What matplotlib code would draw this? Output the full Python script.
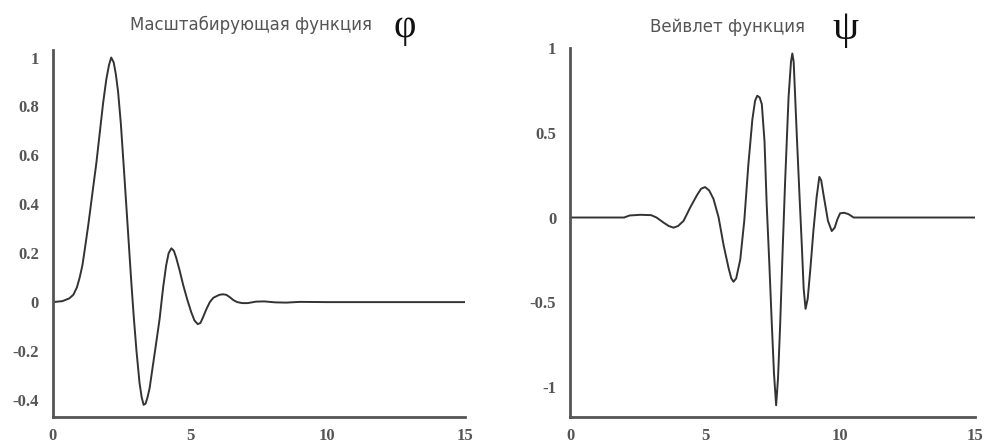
import matplotlib.pyplot as plt

# scaling function phi
phi_x = [0, 0.35, 0.6, 0.75, 0.88, 0.98, 1.08, 1.16, 1.3, 1.45, 1.59, 1.7, 1.83, 1.95,
         2.05, 2.13, 2.22, 2.3, 2.38, 2.48, 2.6, 2.74, 2.85, 2.95, 3.05, 3.16, 3.24,
         3.31, 3.38, 3.45, 3.53, 3.62, 3.75, 3.89, 4.02, 4.13, 4.22, 4.32, 4.41, 4.5,
         4.62, 4.75, 4.9, 5.04, 5.16, 5.28, 5.38, 5.48, 5.59, 5.72, 5.85, 6.07, 6.2,
         6.32, 6.45, 6.58, 6.72, 6.9, 7.1, 7.4, 7.7, 8.1, 8.5, 9.0, 10.0, 11.0, 12.0,
         13.0, 14.0, 15.0]
phi_y = [0, 0.004, 0.015, 0.03, 0.06, 0.10, 0.15, 0.21, 0.32, 0.45, 0.57, 0.68, 0.81,
         0.91, 0.97, 1.0, 0.98, 0.93, 0.86, 0.73, 0.53, 0.29, 0.1, -0.06, -0.2, -0.33,
         -0.39, -0.42, -0.415, -0.39, -0.35, -0.28, -0.18, -0.07, 0.06, 0.15, 0.2, 0.22,
         0.21, 0.18, 0.13, 0.07, 0.01, -0.04, -0.075, -0.09, -0.085, -0.06, -0.03, 0.0,
         0.018, 0.03, 0.032, 0.03, 0.02, 0.008, 0.0, -0.004, -0.004, 0.002, 0.003,
         -0.001, -0.002, 0.001, 0, 0, 0, 0, 0, 0]

# wavelet function psi
psi_x = [0, 1.0, 2.0, 2.2, 2.6, 3.0, 3.2, 3.46, 3.65, 3.83, 4.0, 4.2, 4.45, 4.69, 4.85,
         5.0, 5.15, 5.31, 5.5, 5.68, 5.87, 5.97, 6.05, 6.15, 6.3, 6.45, 6.6, 6.75,
         6.85, 6.93, 7.02, 7.1, 7.2, 7.28, 7.38, 7.47, 7.55, 7.63, 7.7, 7.78, 7.87,
         7.96, 8.09, 8.18, 8.23, 8.28, 8.4, 8.49, 8.58, 8.65, 8.72, 8.8, 8.9, 9.01,
         9.13, 9.23, 9.3, 9.38, 9.55, 9.69, 9.8, 9.9, 10.0, 10.15, 10.31, 10.5, 11.0,
         12.0, 13.0, 14.0, 15.0]
psi_y = [0, 0, 0, 0.012, 0.016, 0.014, 0.0, -0.03, -0.05, -0.06, -0.05, -0.02, 0.06,
         0.13, 0.17, 0.18, 0.16, 0.11, 0.0, -0.16, -0.3, -0.36, -0.38, -0.36, -0.25,
         -0.02, 0.31, 0.58, 0.69, 0.72, 0.71, 0.67, 0.45, 0.08, -0.28, -0.63, -0.92,
         -1.11, -0.95, -0.63, -0.2, 0.2, 0.71, 0.92, 0.97, 0.92, 0.47, 0.15, -0.16,
         -0.42, -0.54, -0.48, -0.3, -0.08, 0.12, 0.24, 0.22, 0.14, -0.02, -0.08, -0.06,
         -0.01, 0.025, 0.028, 0.02, 0.0, 0, 0, 0, 0, 0]

x_ticks = [0, 5, 10, 15]
phi_yticks = [-0.4, -0.2, 0, 0.2, 0.4, 0.6, 0.8, 1]
phi_ylabels = ["-0.4", "-0.2", "0", "0.2", "0.4", "0.6", "0.8", "1"]
psi_yticks = [-1, -0.5, 0, 0.5, 1]
psi_ylabels = ["-1", "-0.5", "0", "0.5", "1"]

fig = plt.figure(figsize=(9.95, 4.48), dpi=100)
ax1 = fig.add_axes([0.053, 0.069, 0.414, 0.819])
ax2 = fig.add_axes([0.573, 0.069, 0.407, 0.823])

line_col = "#333333"
tick_font = dict(family="Liberation Serif", weight="bold", size=12, color="#555555")


def style(ax, xt, yt, yl, ylim):
    ax.set_xlim(0, 15)
    ax.set_ylim(*ylim)
    ax.set_xticks(xt)
    ax.set_xticklabels([str(t) for t in xt], **tick_font)
    ax.set_yticks(yt)
    ax.set_yticklabels(yl, **tick_font)
    ax.tick_params(axis="y", length=0, pad=10)
    ax.tick_params(axis="x", length=0, pad=8)
    for s in ["top", "right"]:
        ax.spines[s].set_visible(False)
    for s in ["left", "bottom"]:
        ax.spines[s].set_color("#555555")
        ax.spines[s].set_linewidth(2)


ax1.plot(phi_x, phi_y, color=line_col, lw=1.4)
style(ax1, x_ticks, phi_yticks, phi_ylabels, (-0.47, 1.03))
ax2.plot(psi_x, psi_y, color=line_col, lw=1.4)
style(ax2, x_ticks, psi_yticks, psi_ylabels, (-1.18, 1.0))

# titles with big greek symbols
fig.text(251 / 995, 1 - 25 / 448, "Масштабирующая функция", ha="center", va="center",
         fontsize=12, color="#555555")
fig.text(405 / 995, 1 - 27 / 448, "φ", ha="center", va="center",
         fontsize=28, family="Liberation Serif", color="#111111")
fig.text(728 / 995, 1 - 27 / 448, "Вейвлет функция", ha="center", va="center",
         fontsize=12, color="#555555")
fig.text(846 / 995, 1 - 29 / 448, "ψ", ha="center", va="center",
         fontsize=30, family="Liberation Serif", color="#111111")

fig.savefig("out.png", dpi=100)
